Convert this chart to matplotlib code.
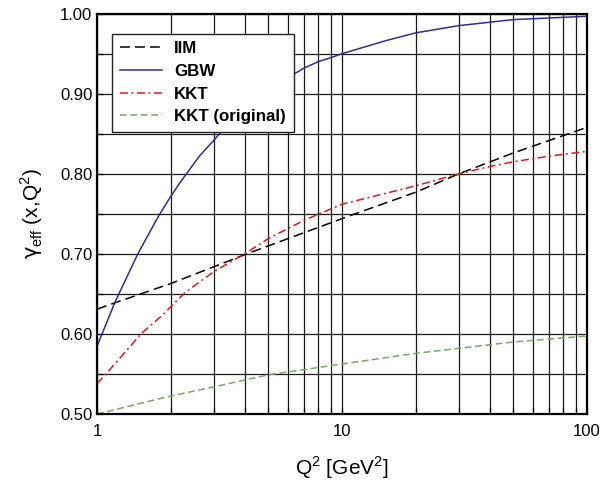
import matplotlib
matplotlib.use("Agg")
import matplotlib.pyplot as plt
import numpy as np
from matplotlib.ticker import FixedLocator, NullFormatter, FormatStrFormatter

plt.rcParams['font.family'] = ['Liberation Sans', 'DejaVu Sans']
plt.rcParams['mathtext.fontset'] = 'custom'
plt.rcParams['mathtext.rm'] = 'Liberation Sans'
plt.rcParams['mathtext.it'] = 'DejaVu Sans'

# values
iim_q2 = [1, 1.184, 2, 3, 4, 5, 10, 11.3, 20, 30, 50, 100]
iim_g = [0.631, 0.639, 0.663, 0.684, 0.699, 0.710, 0.744, 0.750, 0.777,
         0.800, 0.826, 0.858]

gbw_q2 = [1, 1.184, 1.466, 1.78, 2, 2.18, 2.63, 3, 3.18, 4, 5, 6.08, 7, 8, 9,
          10, 15, 20, 30, 50, 100]
gbw_g = [0.585, 0.640, 0.700, 0.747, 0.772, 0.789, 0.823, 0.842, 0.851, 0.881,
         0.905, 0.921, 0.932, 0.940, 0.945, 0.950, 0.966, 0.976, 0.985, 0.9925,
         0.9967]

kkt_q2 = [1, 1.184, 1.52, 1.84, 2, 2.29, 3, 4, 5, 7, 10, 20, 30, 40, 50, 70, 100]
kkt_g = [0.538, 0.563, 0.601, 0.623, 0.634, 0.652, 0.678, 0.700, 0.719, 0.742,
         0.762, 0.785, 0.800, 0.809, 0.815, 0.822, 0.828]

kkto_q2 = [1, 1.73, 2, 3, 5, 10, 20, 50, 100]
kkto_g = [0.500, 0.518, 0.5225, 0.534, 0.549, 0.5625, 0.5758, 0.590, 0.5975]


fig = plt.figure(figsize=(6.07, 4.86), dpi=100)
ax = fig.add_axes([0.16, 0.148, 0.807, 0.824])

ax.plot(iim_q2, iim_g, color='black', lw=1.1, dashes=(6.5, 3.3), label='IIM')
ax.plot(gbw_q2, gbw_g, color='#2e2e96', lw=1.1, label='GBW')
ax.plot(kkt_q2, kkt_g, color='#e3151c', lw=1.1, dashes=(5.2, 2.3, 1.3, 2.3), label='KKT')
ax.plot(kkto_q2, kkto_g, color='#7da56a', lw=1.1, dashes=(4.4, 2.4), label='KKT (original)')

ax.set_xscale('log')
ax.set_xlim(1, 100)
ax.set_ylim(0.5, 1.0)

ax.xaxis.set_major_locator(FixedLocator([1, 10, 100]))
ax.set_xticklabels(['1', '10', '100'])
ax.xaxis.set_minor_locator(FixedLocator([m * d for d in (1, 10) for m in range(2, 10)]))
ax.xaxis.set_minor_formatter(NullFormatter())
ax.yaxis.set_major_locator(FixedLocator(np.arange(0.5, 1.001, 0.1)))
ax.yaxis.set_major_formatter(FormatStrFormatter('%.2f'))
ax.yaxis.set_minor_locator(FixedLocator(np.arange(0.55, 1.0, 0.1)))

ax.grid(True, which='both', color='#1a1a1a', lw=0.9)
ax.set_axisbelow(True)
ax.tick_params(which='both', direction='in', length=4, top=False, right=False,
               labelsize=12, width=0.9)
ax.tick_params(axis='x', pad=7)
for s in ax.spines.values():
    s.set_linewidth(1.6)

ax.set_xlabel(r'Q$^{2}$ [GeV$^{2}$]', fontsize=15, labelpad=11)
ax.set_ylabel(r'$\gamma_{\mathrm{eff}}$ (x,Q$^{2}$)', fontsize=15, labelpad=11)

leg = ax.legend(loc='upper left', bbox_to_anchor=(0.031, 0.95), borderaxespad=0,
                fancybox=False, framealpha=1, edgecolor='#222222',
                handlelength=2.5, prop={'weight': 'bold', 'size': 12.2},
                borderpad=0.45, labelspacing=0.45, handletextpad=0.7)
leg.get_frame().set_linewidth(1.0)

fig.savefig('out.png', dpi=100)
